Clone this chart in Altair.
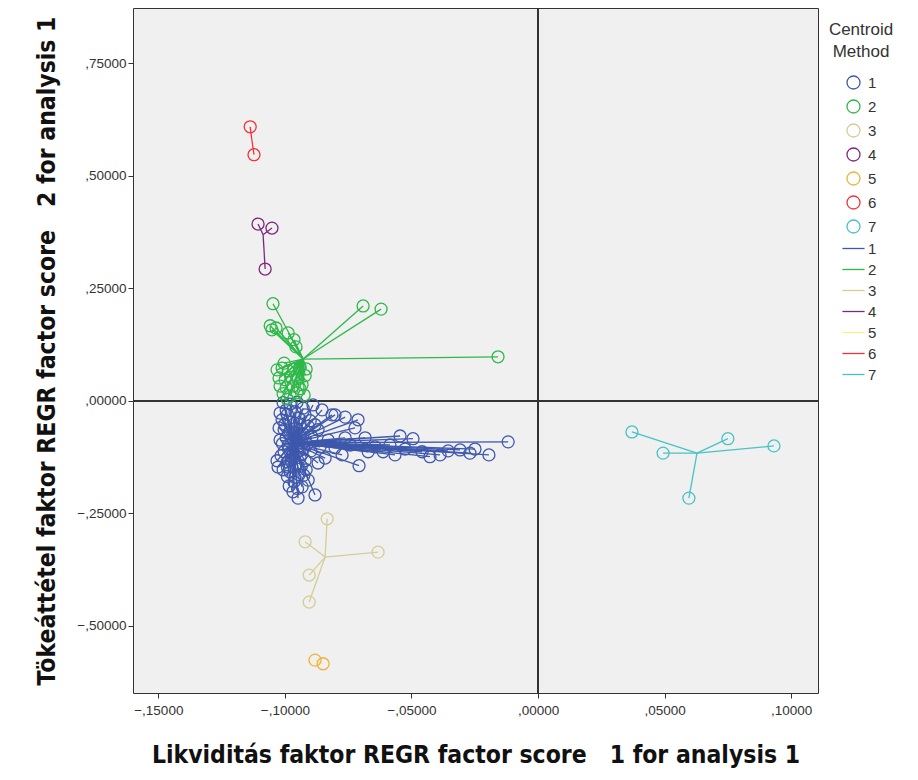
import altair as alt
import pandas as pd

# ---- data -----------------------------------------------------------------
# cluster 1 (blue)
c1_x = [-0.0118, -0.0194, -0.0249, -0.0308, -0.0427, -0.0494, -0.0545, -0.0612, -0.0683, -0.0707,
        -0.0711, -0.0762, -0.0802, -0.0723, -0.0269, -0.0355, -0.0387, -0.0458, -0.0525, -0.0565,
        -0.0644, -0.0671, -0.0742, -0.0774, -0.0802, -0.0829, -0.0841, -0.0869, -0.0762, -0.0585,
        -0.1031, -0.1027, -0.0869, -0.0881, -0.0948, -0.0968, -0.0889, -0.0814, -0.1019, -0.0908,
        -0.1007, -0.0979, -0.0952, -0.0928, -0.0995, -0.0960, -0.0920, -0.1011, -0.0976, -0.0940,
        -0.0900, -0.1003, -0.0964, -0.0928, -0.0893, -0.1019, -0.0987, -0.0948, -0.0912, -0.1003,
        -0.0968, -0.0932, -0.0897, -0.0991, -0.0956, -0.0920, -0.0979, -0.0944, -0.0964, -0.0932,
        -0.0983, -0.0916, -0.1007, -0.0861, -0.0881, -0.1023, -0.0995, -0.0952, -0.0908, -0.0853,
        -0.0990, -0.0945, -0.1000, -0.0955, -0.0985, -0.0940, -0.1010, -0.0965, -0.0925, -0.0985,
        -0.0950, -0.1015, -0.0940, -0.0975, -0.0990, -0.0935, -0.0960, -0.0990, -0.0925, -0.0950]
c1_y = [-0.091, -0.120, -0.107, -0.109, -0.124, -0.084, -0.078, -0.113, -0.082, -0.144,
        -0.042, -0.036, -0.031, -0.060, -0.116, -0.111, -0.120, -0.113, -0.107, -0.120,
        -0.102, -0.113, -0.098, -0.120, -0.104, -0.087, -0.127, -0.064, -0.082, -0.098,
        -0.133, -0.147, -0.138, -0.209, -0.216, -0.202, -0.009, -0.031, -0.027, -0.176,
        -0.004, -0.007, -0.003, -0.016, -0.020, -0.024, -0.031, -0.042, -0.047, -0.051,
        -0.044, -0.064, -0.069, -0.073, -0.080, -0.087, -0.098, -0.102, -0.096, -0.113,
        -0.120, -0.118, -0.111, -0.136, -0.142, -0.133, -0.158, -0.164, -0.180, -0.191,
        -0.189, -0.153, -0.153, -0.102, -0.053, -0.060, -0.082, -0.087, -0.056, -0.020,
        -0.030, -0.038, -0.052, -0.060, -0.072, -0.080, -0.095, -0.090, -0.105, -0.108,
        -0.112, -0.122, -0.126, -0.130, -0.147, -0.145, -0.170, -0.168, -0.165, -0.195]
# cluster 2 (green)
c2_x = [-0.1047, -0.0691, -0.0620, -0.0158, -0.1058, -0.1051, -0.1035, -0.0987, -0.0964, -0.0956,
        -0.1031, -0.1011, -0.0987, -0.0964, -0.0940, -0.1023, -0.0999, -0.0975, -0.0948, -0.0920,
        -0.1019, -0.0995, -0.0968, -0.0940, -0.1007, -0.0979, -0.0952, -0.0924, -0.0991, -0.0932,
        -0.0916, -0.1003]
c2_y = [0.216, 0.211, 0.204, 0.098, 0.167, 0.158, 0.162, 0.151, 0.136, 0.120,
        0.069, 0.073, 0.067, 0.071, 0.076, 0.051, 0.047, 0.053, 0.049, 0.056,
        0.033, 0.029, 0.033, 0.027, 0.016, 0.011, 0.018, 0.013, 0.004, 0.036,
        0.071, 0.084]
# cluster 3 (beige)
c3_x = [-0.0833, -0.0920, -0.0632, -0.0904, -0.0904]
c3_y = [-0.262, -0.313, -0.336, -0.387, -0.447]
# cluster 4 (purple)
c4_x = [-0.1106, -0.1051, -0.1078]
c4_y = [0.393, 0.384, 0.293]
# cluster 5 (orange)
c5_x = [-0.0881, -0.0849]
c5_y = [-0.576, -0.584]
# cluster 6 (red)
c6_x = [-0.1137, -0.1122]
c6_y = [0.609, 0.547]
# cluster 7 (cyan)
c7_x = [0.0371, 0.0494, 0.0750, 0.0932, 0.0596]
c7_y = [-0.069, -0.116, -0.084, -0.100, -0.216]

centroid_ids = [1, 2, 3, 4, 5, 6, 7]
centroid_x = [-0.0968, -0.0928, -0.0841, -0.1086, -0.0865, -0.1130, 0.0628]
centroid_y = [-0.093, 0.093, -0.347, 0.369, -0.580, 0.578, -0.116]

x_ticks = [-0.15, -0.10, -0.05, 0.0, 0.05, 0.10]
y_ticks = [-0.50, -0.25, 0.0, 0.25, 0.50, 0.75]

marker_colors = ["#3E58AC", "#2EB848", "#D3CE97", "#7C287D", "#F2B03C", "#EF3338", "#48C2C5"]
line_colors = ["#3E58AC", "#2EB848", "#D3CE97", "#7C287D", "#F6F08C", "#EF3338", "#48C2C5"]

x_title = "Likviditás faktor REGR factor score \u00a0 1 for analysis 1"
y_title = "Tökeáttétel faktor REGR factor score \u00a0 2 for analysis 1"

# ---- table -----------------------------------------------------------------
groups = [(1, c1_x, c1_y), (2, c2_x, c2_y), (3, c3_x, c3_y), (4, c4_x, c4_y),
          (5, c5_x, c5_y), (6, c6_x, c6_y), (7, c7_x, c7_y)]
rows = []
for cid, xs_, ys_ in groups:
    i = centroid_ids.index(cid)
    for xv, yv in zip(xs_, ys_):
        rows.append({"cluster": str(cid), "x": xv, "y": yv,
                     "cx": centroid_x[i], "cy": centroid_y[i]})
df = pd.DataFrame(rows)

keys = ["p%d" % c for c in centroid_ids] + ["l%d" % c for c in centroid_ids]
color_scale = alt.Scale(domain=keys, range=marker_colors + line_colors)
shape_scale = alt.Scale(domain=keys, range=["circle"] * 7 + ["M-1.7,0L1.7,0"] * 7)
line_scale = alt.Scale(domain=[str(c) for c in centroid_ids], range=line_colors)

xsc = alt.Scale(domain=[-0.160, 0.1106], nice=False, zero=False)
ysc = alt.Scale(domain=[-0.649, 0.873], nice=False, zero=False)

label_expr = "replace(format(datum.value, '.5f'), '0.', ',')"
FONT = "Liberation Sans"
TFONT = "DejaVu Sans Condensed, Liberation Sans"

x_axis = alt.Axis(values=x_ticks, labelExpr=label_expr, title=x_title, grid=False, domain=False,
                  tickSize=5, tickColor="#333", labelFont=FONT, labelFontSize=13.5, labelColor="#333",
                  labelPadding=5, titleFont=TFONT, titleFontSize=24.5, titleFontWeight="bold",
                  titleColor="#111", titlePadding=27)
y_axis = alt.Axis(values=y_ticks, labelExpr=label_expr, title=y_title, grid=False, domain=False,
                  tickSize=5, tickColor="#333", labelFont=FONT, labelFontSize=13.5, labelColor="#333",
                  labelPadding=2, titleFont=TFONT, titleFontSize=24.5, titleFontWeight="bold",
                  titleColor="#111", titlePadding=17)

rules = alt.Chart(df).mark_rule(strokeWidth=1.3).encode(
    x=alt.X("cx:Q", scale=xsc, axis=x_axis),
    y=alt.Y("cy:Q", scale=ysc, axis=y_axis),
    x2="x:Q",
    y2="y:Q",
    stroke=alt.Stroke("cluster:N", scale=line_scale, legend=None),
)

legend = alt.Legend(
    title=["Centroid", "Method"], orient="none", legendX=696, legendY=14,
    titleFont=FONT, titleFontSize=17, titleFontWeight="normal", titleColor="#333",
    titleAnchor="middle", titleAlign="center", titlePadding=14, titleLineHeight=22,
    labelFont=FONT, labelFontSize=15, labelColor="#333",
    labelExpr="slice(datum.label, 1)", symbolSize=170, symbolStrokeWidth=1.3,
    rowPadding=5, labelOffset=7,
)

points = alt.Chart(df).transform_calculate(key="'p' + datum.cluster").mark_point(
    filled=False, size=144, strokeWidth=1.3, opacity=1
).encode(
    x="x:Q",
    y="y:Q",
    color=alt.Color("key:N", scale=color_scale, legend=legend),
    shape=alt.Shape("key:N", scale=shape_scale, legend=legend),
)

zero_x = alt.Chart(df).mark_rule(color="#333", strokeWidth=1.8).encode(x=alt.datum(0))
zero_y = alt.Chart(df).mark_rule(color="#333", strokeWidth=1.8).encode(y=alt.datum(0))

chart = alt.layer(zero_x, zero_y, rules, points).properties(
    width=685, height=685,
    padding={"left": 125, "top": 0, "right": 90, "bottom": 82},
    autosize=alt.AutoSizeParams(type="none"),
    background="white",
).configure_view(
    fill="#F0F0F0", stroke="#333", strokeWidth=1
)

chart.save("out.html", embed_options={"renderer": "svg", "actions": False})
